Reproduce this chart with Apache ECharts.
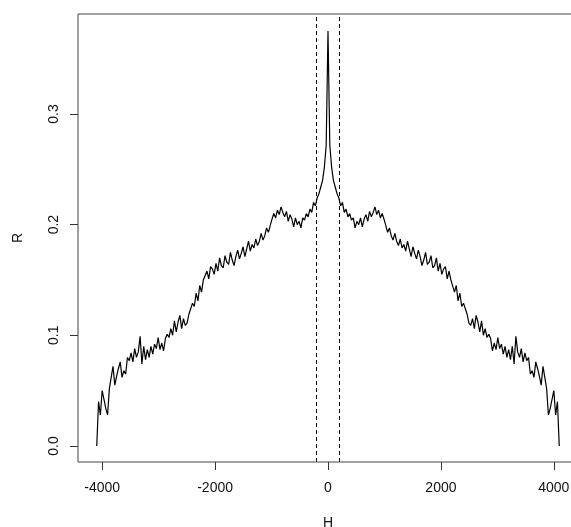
<!DOCTYPE html>
<html>
<head>
<meta charset="utf-8">
<script src="https://cdn.jsdelivr.net/npm/echarts@6/dist/echarts.min.js"></script>
<style>
html,body{margin:0;padding:0;background:#fff;}
#c{width:571px;height:527px;}
</style>
</head>
<body>
<div id="c"></div>
<script>
// Lag H (left half, -4096 .. 0)
var H_left = [-4096,-4064,-4032,-4000,-3968,-3936,-3904,-3872,-3840,-3808,
  -3776,-3744,-3712,-3680,-3648,-3616,-3584,-3552,-3520,-3488,
  -3456,-3424,-3392,-3360,-3328,-3296,-3264,-3232,-3200,-3168,
  -3136,-3104,-3072,-3040,-3008,-2976,-2944,-2912,-2880,-2848,
  -2816,-2784,-2752,-2720,-2688,-2656,-2624,-2592,-2560,-2528,
  -2496,-2464,-2432,-2400,-2368,-2336,-2304,-2272,-2240,-2208,
  -2176,-2144,-2112,-2080,-2048,-2016,-1984,-1952,-1920,-1888,
  -1856,-1824,-1792,-1760,-1728,-1696,-1664,-1632,-1600,-1568,
  -1536,-1504,-1472,-1440,-1408,-1376,-1344,-1312,-1280,-1248,
  -1216,-1184,-1152,-1120,-1088,-1056,-1024,-992,-960,-928,
  -896,-864,-832,-800,-768,-736,-704,-672,-640,-608,
  -576,-544,-512,-480,-448,-416,-384,-352,-320,-288,
  -256,-224,-192,-160,-128,-96,-64,-32,0];
var R_left = [0.000,0.040,0.028,0.050,0.042,0.034,0.028,0.052,0.062,0.072,
  0.055,0.063,0.070,0.076,0.062,0.068,0.065,0.080,0.077,0.084,
  0.076,0.088,0.080,0.085,0.099,0.074,0.090,0.078,0.087,0.080,
  0.090,0.083,0.092,0.088,0.098,0.087,0.093,0.086,0.097,0.101,
  0.098,0.106,0.100,0.113,0.103,0.112,0.118,0.106,0.115,0.109,
  0.111,0.119,0.124,0.129,0.126,0.138,0.131,0.145,0.139,0.150,
  0.150,0.158,0.151,0.162,0.160,0.155,0.165,0.158,0.170,0.163,
  0.161,0.172,0.166,0.164,0.175,0.168,0.163,0.171,0.177,0.169,
  0.174,0.180,0.171,0.178,0.185,0.176,0.182,0.179,0.187,0.181,
  0.185,0.192,0.186,0.190,0.197,0.193,0.199,0.205,0.210,0.206,
  0.213,0.209,0.216,0.211,0.207,0.212,0.203,0.209,0.205,0.198,
  0.206,0.200,0.203,0.197,0.206,0.204,0.210,0.207,0.214,0.211,
  0.220,0.217,0.224,0.228,0.234,0.240,0.252,0.272,0.375];
// Right half (32 .. 4096)
var H_right = [32,64,96,128,160,192,224,256,
  288,320,352,384,416,448,480,512,544,576,
  608,640,672,704,736,768,800,832,864,896,
  928,960,992,1024,1056,1088,1120,1152,1184,1216,
  1248,1280,1312,1344,1376,1408,1440,1472,1504,1536,
  1568,1600,1632,1664,1696,1728,1760,1792,1824,1856,
  1888,1920,1952,1984,2016,2048,2080,2112,2144,2176,
  2208,2240,2272,2304,2336,2368,2400,2432,2464,2496,
  2528,2560,2592,2624,2656,2688,2720,2752,2784,2816,
  2848,2880,2912,2944,2976,3008,3040,3072,3104,3136,
  3168,3200,3232,3264,3296,3328,3360,3392,3424,3456,
  3488,3520,3552,3584,3616,3648,3680,3712,3744,3776,
  3808,3840,3872,3904,3936,3968,4000,4032,4064,4096];
var R_right = [0.272,0.252,0.240,0.234,0.228,0.224,0.217,0.220,
  0.211,0.214,0.207,0.210,0.204,0.206,0.197,0.203,0.200,0.206,
  0.198,0.205,0.209,0.203,0.212,0.207,0.211,0.216,0.209,0.213,
  0.206,0.210,0.205,0.199,0.193,0.197,0.190,0.186,0.192,0.185,
  0.181,0.187,0.179,0.182,0.176,0.185,0.178,0.171,0.180,0.174,
  0.169,0.177,0.171,0.163,0.168,0.175,0.164,0.166,0.172,0.161,
  0.163,0.170,0.158,0.165,0.155,0.160,0.162,0.151,0.158,0.150,
  0.150,0.139,0.145,0.131,0.138,0.126,0.129,0.124,0.119,0.111,
  0.109,0.115,0.106,0.118,0.112,0.103,0.113,0.100,0.106,0.098,
  0.101,0.097,0.086,0.093,0.087,0.098,0.088,0.092,0.083,0.090,
  0.080,0.087,0.078,0.090,0.074,0.099,0.085,0.080,0.088,0.076,
  0.084,0.077,0.080,0.065,0.068,0.062,0.076,0.070,0.063,0.055,
  0.072,0.062,0.052,0.028,0.034,0.042,0.050,0.028,0.040,0.000];
var xTicks = [-4000,-2000,0,2000,4000];
var yTicks = [0,0.1,0.2,0.3];
var vLines = [-200,200];

var H = H_left.concat(H_right);
var R = R_left.concat(R_right);
var pts = H.map(function(h,i){return [h,R[i]];});

var font = 'Liberation Sans, Arial, Helvetica, sans-serif';
var chart = echarts.init(document.getElementById('c'), null, {renderer:'canvas'});
chart.setOption({
  animation:false,
  backgroundColor:'#fff',
  grid:{left:78,top:14,width:500,height:448,show:true,borderColor:'#444',borderWidth:1,backgroundColor:'transparent',containLabel:false,outerBoundsMode:'none'},
  xAxis:{type:'value',min:-4428,max:4428,
    name:'H',nameLocation:'middle',nameGap:54,
    nameTextStyle:{fontFamily:font,fontSize:14,color:'#111'},
    axisLine:{show:false,onZero:false},
    axisTick:{show:true,length:8,inside:false,customValues:xTicks,lineStyle:{color:'#333',width:1}},
    axisLabel:{customValues:xTicks,margin:19,fontFamily:font,fontSize:14,color:'#111',formatter:function(v){return String(v);}},
    splitLine:{show:false}},
  yAxis:{type:'value',min:-0.0145,max:0.3903,
    name:'R',nameLocation:'middle',nameGap:53,
    nameTextStyle:{fontFamily:font,fontSize:14,color:'#111'},
    axisLine:{show:false,onZero:false},
    axisTick:{show:true,length:8,inside:false,customValues:yTicks,lineStyle:{color:'#333',width:1}},
    axisLabel:{customValues:yTicks,rotate:90,margin:17,fontFamily:font,fontSize:14,color:'#111',formatter:function(v){return v.toFixed(1);}},
    splitLine:{show:false}},
  series:[{type:'line',data:pts,showSymbol:false,symbol:'none',
    lineStyle:{color:'#000',width:1.2},
    markLine:{silent:true,symbol:['none','none'],label:{show:false},
      lineStyle:{color:'#000',width:1,type:[4,3]},
      data:vLines.map(function(v){return {xAxis:v};})}}]
});
</script>
</body>
</html>
